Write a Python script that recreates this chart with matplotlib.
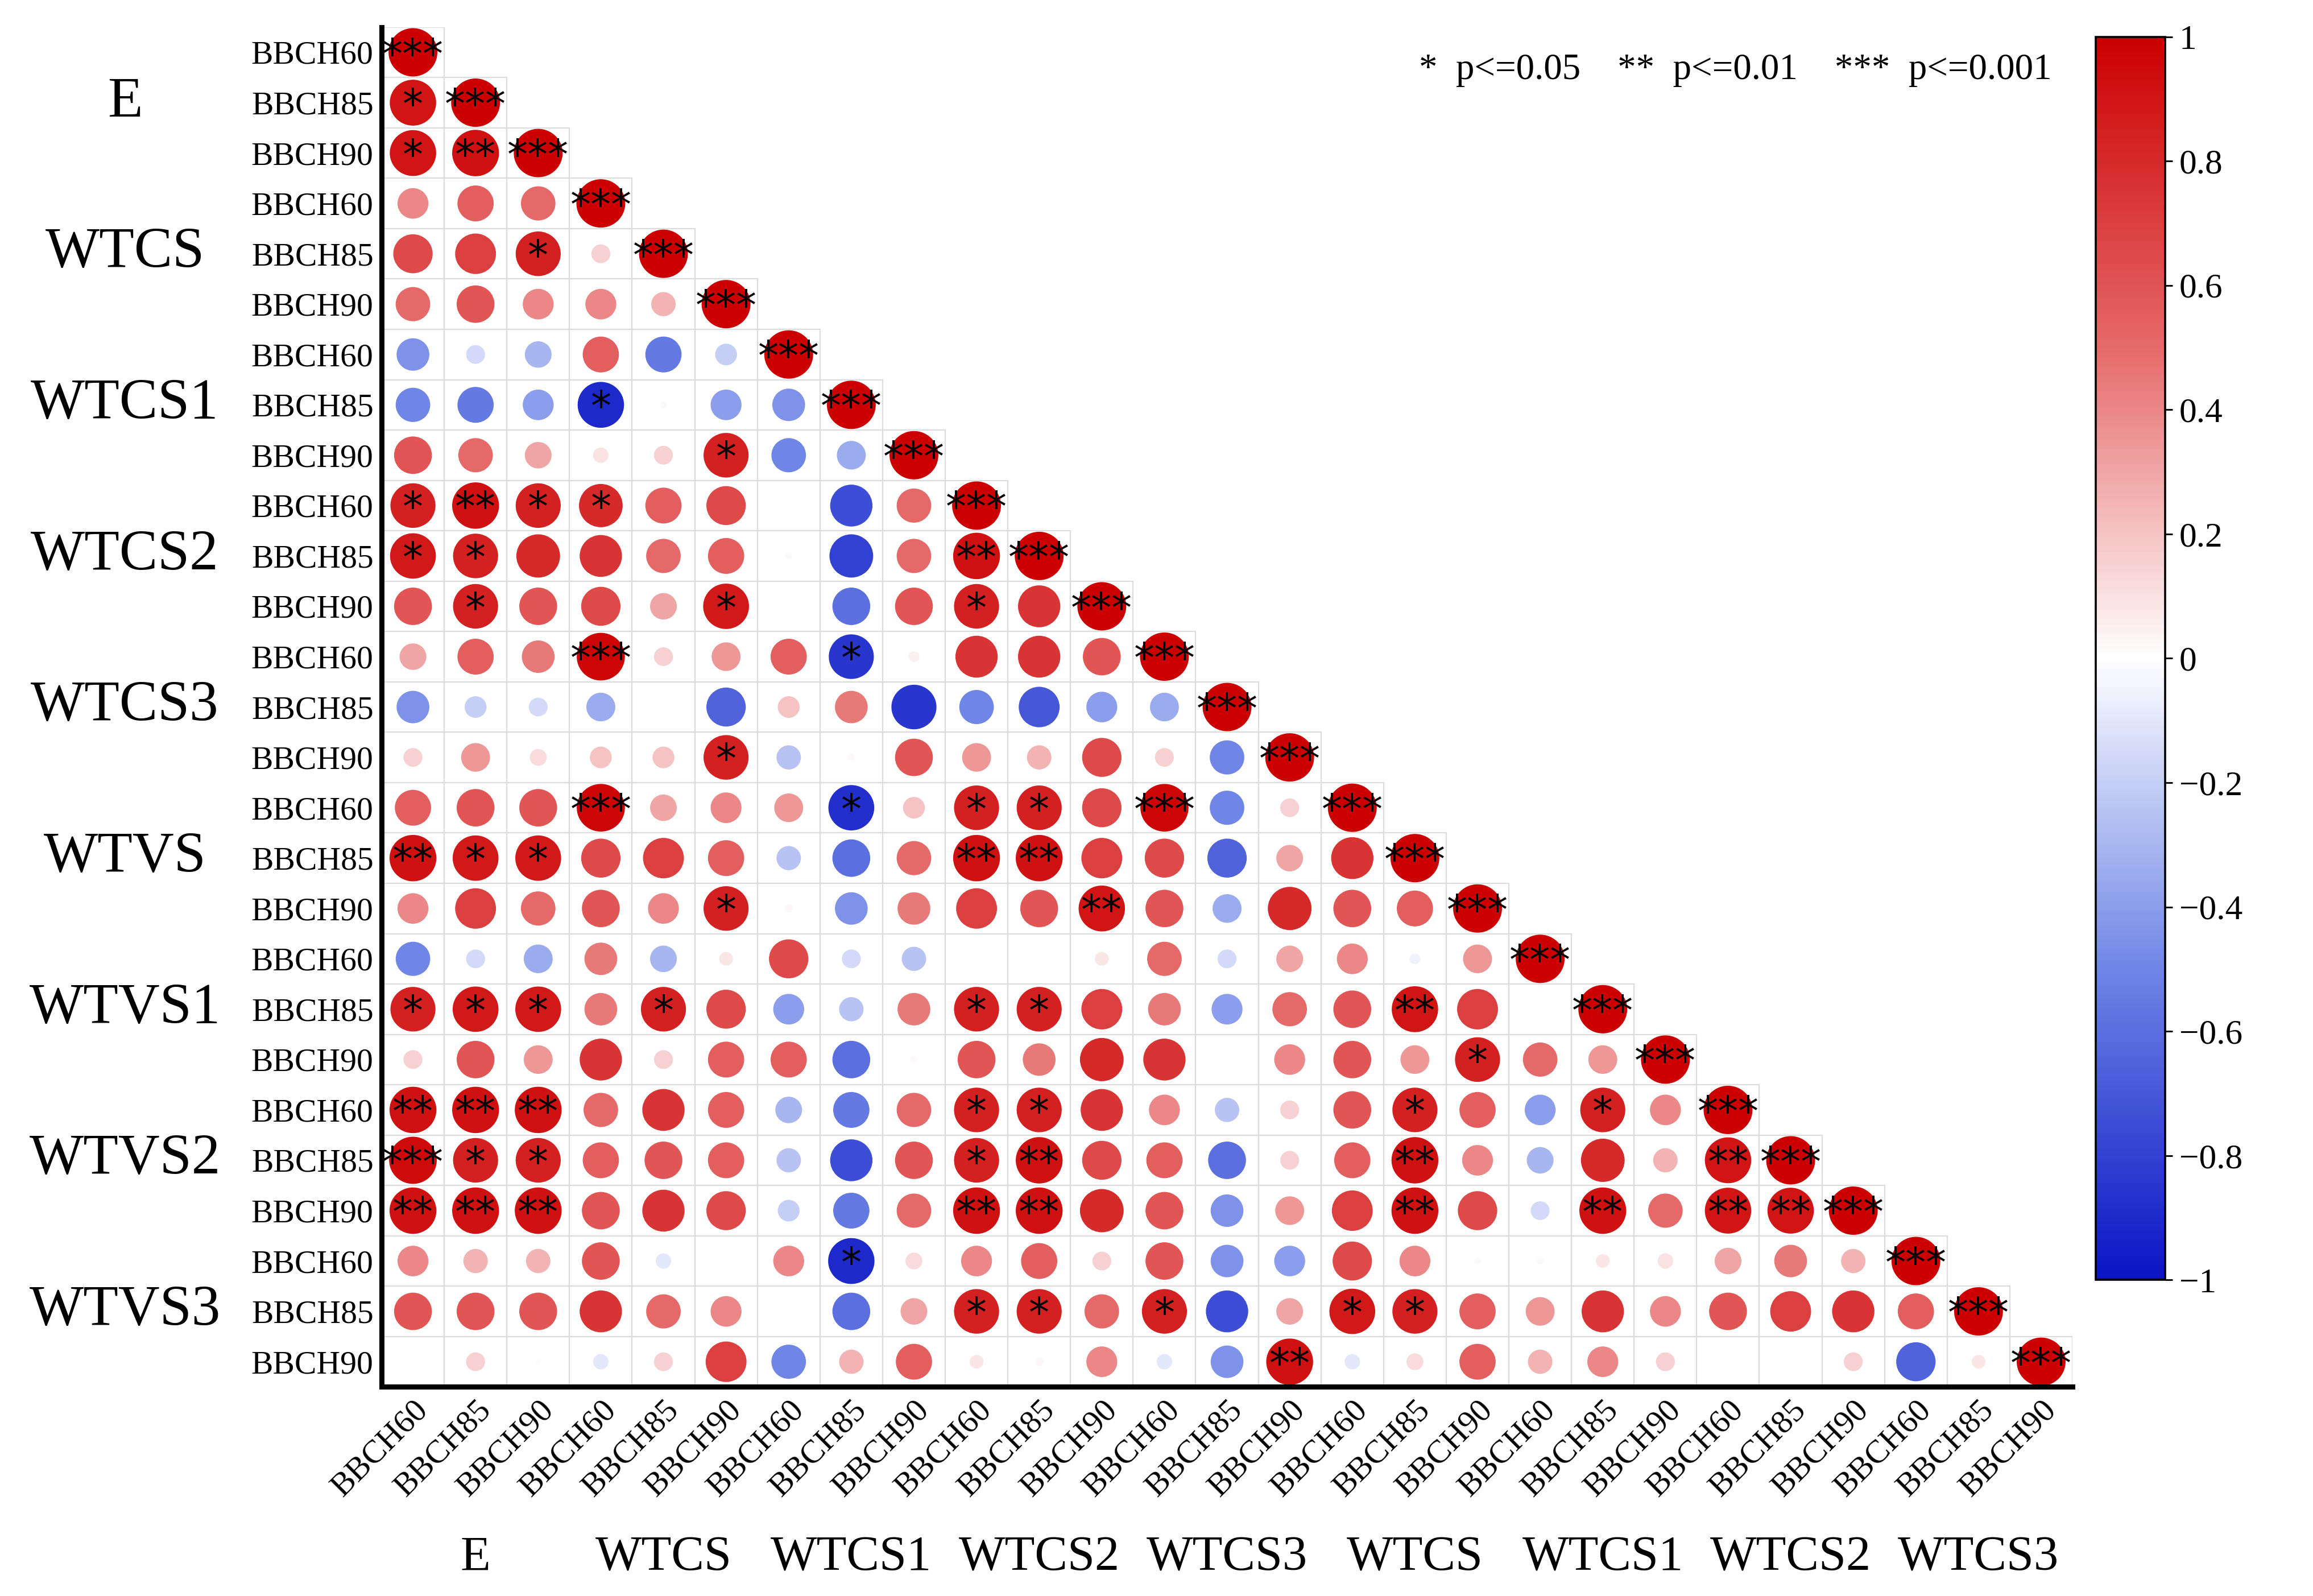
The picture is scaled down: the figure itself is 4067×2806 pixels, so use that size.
import numpy as np
import matplotlib
matplotlib.use("Agg")
import matplotlib.pyplot as plt
from matplotlib.patches import Ellipse, Rectangle
from matplotlib.colors import LinearSegmentedColormap, Normalize

plt.rcParams['font.family'] = ['Liberation Serif', 'DejaVu Serif']

row_labels = ["BBCH60", "BBCH85", "BBCH90"] * 9
left_groups = ["E", "WTCS", "WTCS1", "WTCS2", "WTCS3", "WTVS", "WTVS1", "WTVS2", "WTVS3"]
bottom_groups = ["E", "WTCS", "WTCS1", "WTCS2", "WTCS3", "WTCS", "WTCS1", "WTCS2", "WTCS3"]

r00 = [1]
r01 = [0.9, 1]
r02 = [0.9, 0.92, 1]
r03 = [0.4, 0.55, 0.5, 1]
r04 = [0.65, 0.7, 0.85, 0.15, 1]
r05 = [0.5, 0.6, 0.4, 0.4, 0.25, 1]
r06 = [-0.45, -0.15, -0.3, 0.55, -0.55, -0.2, 1]
r07 = [-0.5, -0.55, -0.4, -0.9, 0.02, -0.4, -0.45, 1]
r08 = [0.6, 0.5, 0.3, 0.1, 0.15, 0.85, -0.5, -0.35, 1]
r09 = [0.85, 0.92, 0.85, 0.8, 0.55, 0.65, 0.0, -0.75, 0.5, 1]
r10 = [0.88, 0.85, 0.8, 0.75, 0.5, 0.55, 0.02, -0.8, 0.5, 0.92, 1]
r11 = [0.6, 0.85, 0.6, 0.65, 0.3, 0.88, 0.0, -0.6, 0.6, 0.85, 0.75, 1]
r12 = [0.3, 0.55, 0.45, 0.97, 0.15, 0.35, 0.55, -0.85, 0.05, 0.75, 0.75, 0.6, 1]
r13 = [-0.45, -0.2, -0.15, -0.35, 0.0, -0.65, 0.2, 0.45, -0.85, -0.5, -0.7, -0.4, -0.35, 1]
r14 = [0.15, 0.35, 0.12, 0.2, 0.2, 0.85, -0.25, 0.02, 0.6, 0.35, 0.25, 0.65, 0.15, -0.5, 1]
r15 = [0.55, 0.6, 0.6, 0.97, 0.3, 0.4, 0.35, -0.88, 0.2, 0.85, 0.85, 0.65, 0.97, -0.5, 0.15, 1]
r16 = [0.92, 0.88, 0.88, 0.65, 0.7, 0.55, -0.25, -0.6, 0.5, 0.92, 0.92, 0.7, 0.65, -0.65, 0.3, 0.75, 1]
r17 = [0.4, 0.7, 0.5, 0.6, 0.4, 0.85, 0.03, -0.45, 0.45, 0.7, 0.6, 0.9, 0.6, -0.35, 0.8, 0.6, 0.55, 1]
r18 = [-0.5, -0.15, -0.35, 0.45, -0.3, 0.08, 0.65, -0.15, -0.25, 0.0, 0.0, 0.08, 0.5, -0.15, 0.3, 0.4, -0.05, 0.35, 1]
r19 = [0.85, 0.88, 0.88, 0.45, 0.85, 0.65, -0.4, -0.25, 0.45, 0.85, 0.85, 0.7, 0.45, -0.4, 0.5, 0.6, 0.9, 0.7, 0.0, 1]
r20 = [0.15, 0.6, 0.35, 0.75, 0.15, 0.55, 0.55, -0.6, 0.02, 0.6, 0.45, 0.8, 0.75, 0.0, 0.4, 0.6, 0.35, 0.85, 0.5, 0.35, 1]
r21 = [0.92, 0.92, 0.92, 0.5, 0.75, 0.55, -0.3, -0.55, 0.5, 0.85, 0.85, 0.75, 0.4, -0.25, 0.15, 0.6, 0.85, 0.55, -0.4, 0.85, 0.4, 1]
r22 = [0.95, 0.85, 0.85, 0.55, 0.6, 0.55, -0.25, -0.75, 0.6, 0.85, 0.92, 0.65, 0.55, -0.6, 0.15, 0.55, 0.92, 0.4, -0.3, 0.8, 0.25, 0.9, 1]
r23 = [0.92, 0.92, 0.92, 0.6, 0.75, 0.65, -0.2, -0.55, 0.5, 0.92, 0.92, 0.8, 0.6, -0.45, 0.35, 0.7, 0.92, 0.65, -0.15, 0.92, 0.5, 0.9, 0.9, 1]
r24 = [0.4, 0.25, 0.25, 0.6, -0.1, 0.0, 0.4, -0.9, 0.12, 0.4, 0.55, 0.15, 0.6, -0.45, -0.4, 0.65, 0.4, 0.02, 0.02, 0.08, 0.1, 0.3, 0.45, 0.25, 1]
r25 = [0.6, 0.6, 0.6, 0.75, 0.5, 0.4, 0.0, -0.6, 0.3, 0.85, 0.85, 0.5, 0.85, -0.75, 0.3, 0.88, 0.85, 0.55, 0.35, 0.75, 0.4, 0.6, 0.7, 0.75, 0.55, 1]
r26 = [0.0, 0.15, 0.01, -0.1, 0.15, 0.7, -0.5, 0.25, 0.55, 0.08, 0.03, 0.4, -0.1, -0.45, 0.92, -0.1, 0.12, 0.55, 0.25, 0.4, 0.15, 0.0, 0.0, 0.15, -0.65, 0.08, 1]
rows = [r00, r01, r02, r03, r04, r05, r06, r07, r08, r09, r10, r11, r12, r13,
        r14, r15, r16, r17, r18, r19, r20, r21, r22, r23, r24, r25, r26]

# significance marks (row, col, label); diagonal is ***
sig_marks = [
    (1, 0, "*"), (2, 0, "*"), (2, 1, "**"), (4, 2, "*"), (7, 3, "*"), (8, 5, "*"),
    (9, 0, "*"), (9, 1, "**"), (9, 2, "*"), (9, 3, "*"),
    (10, 0, "*"), (10, 1, "*"), (10, 9, "**"),
    (11, 1, "*"), (11, 5, "*"), (11, 9, "*"),
    (12, 3, "***"), (12, 7, "*"), (14, 5, "*"),
    (15, 3, "***"), (15, 7, "*"), (15, 9, "*"), (15, 10, "*"), (15, 12, "***"),
    (16, 0, "**"), (16, 1, "*"), (16, 2, "*"), (16, 9, "**"), (16, 10, "**"),
    (17, 5, "*"), (17, 11, "**"),
    (19, 0, "*"), (19, 1, "*"), (19, 2, "*"), (19, 4, "*"), (19, 9, "*"), (19, 10, "*"), (19, 16, "**"),
    (20, 17, "*"),
    (21, 0, "**"), (21, 1, "**"), (21, 2, "**"), (21, 9, "*"), (21, 10, "*"), (21, 16, "*"), (21, 19, "*"),
    (22, 0, "***"), (22, 1, "*"), (22, 2, "*"), (22, 9, "*"), (22, 10, "**"), (22, 16, "**"), (22, 21, "**"),
    (23, 0, "**"), (23, 1, "**"), (23, 2, "**"), (23, 9, "**"), (23, 10, "**"), (23, 16, "**"),
    (23, 19, "**"), (23, 21, "**"), (23, 22, "**"),
    (24, 7, "*"),
    (25, 9, "*"), (25, 10, "*"), (25, 12, "*"), (25, 15, "*"), (25, 16, "*"),
    (26, 14, "**"),
]

n = len(rows)
cmap = LinearSegmentedColormap.from_list("bwr2", ["#0a14c4", "#6f86e6", "#ffffff", "#e66a6a", "#cc0000"])
norm = Normalize(-1, 1)

fig = plt.figure(figsize=(4067 / 259.4, 2806 / 259.4), dpi=259.4)
ax = fig.add_axes([0.165, 0.131, 0.731, 0.852])
ax.set_xlim(-0.5, n - 0.5)
ax.set_ylim(n - 0.5, -0.5)

for i, row in enumerate(rows):
    for j, v in enumerate(row):
        ax.add_patch(Rectangle((j - 0.5, i - 0.5), 1, 1, fill=False, ec="#dcdcdc", lw=0.6, zorder=1))
        s = np.sqrt(abs(v))
        ax.add_patch(Ellipse((j, i), 0.78 * s, 0.96 * s, color=cmap(norm(v)), lw=0, zorder=2))
    ax.text(i, i + 0.08, "***", ha="center", va="center", fontsize=20, family="DejaVu Sans", zorder=3)
for (i, j, lab) in sig_marks:
    ax.text(j, i + 0.08, lab, ha="center", va="center", fontsize=20, family="DejaVu Sans", zorder=3)

for s in ["top", "right"]:
    ax.spines[s].set_visible(False)
for s in ["left", "bottom"]:
    ax.spines[s].set_linewidth(2.5)

ax.set_yticks(range(n))
ax.set_yticklabels(row_labels, fontsize=16)
ax.set_xticks(range(n))
ax.set_xticklabels(row_labels, fontsize=16, rotation=45, ha="right", rotation_mode="anchor")
ax.tick_params(length=0, pad=4)

for g, lab in enumerate(left_groups):
    ax.text(-4.6, 3 * g + 1, lab, ha="center", va="center", fontsize=28, clip_on=False)
for g, lab in enumerate(bottom_groups):
    ax.text(3 * g + 1, 29.9, lab, ha="center", va="center", fontsize=24, clip_on=False)

fig.text(0.887, 0.956, "*  p<=0.05    **  p<=0.01    ***  p<=0.001", ha="right", va="center", fontsize=18)

cax = fig.add_axes([0.906, 0.198, 0.030, 0.779])
cb = fig.colorbar(plt.cm.ScalarMappable(norm=norm, cmap=cmap), cax=cax, ticks=np.linspace(-1, 1, 11))
cb.ax.set_yticklabels(["−1", "−0.8", "−0.6", "−0.4", "−0.2", "0", "0.2", "0.4", "0.6", "0.8", "1"], fontsize=17)
cb.outline.set_linewidth(1)

fig.savefig("out.png", dpi=259.4)
